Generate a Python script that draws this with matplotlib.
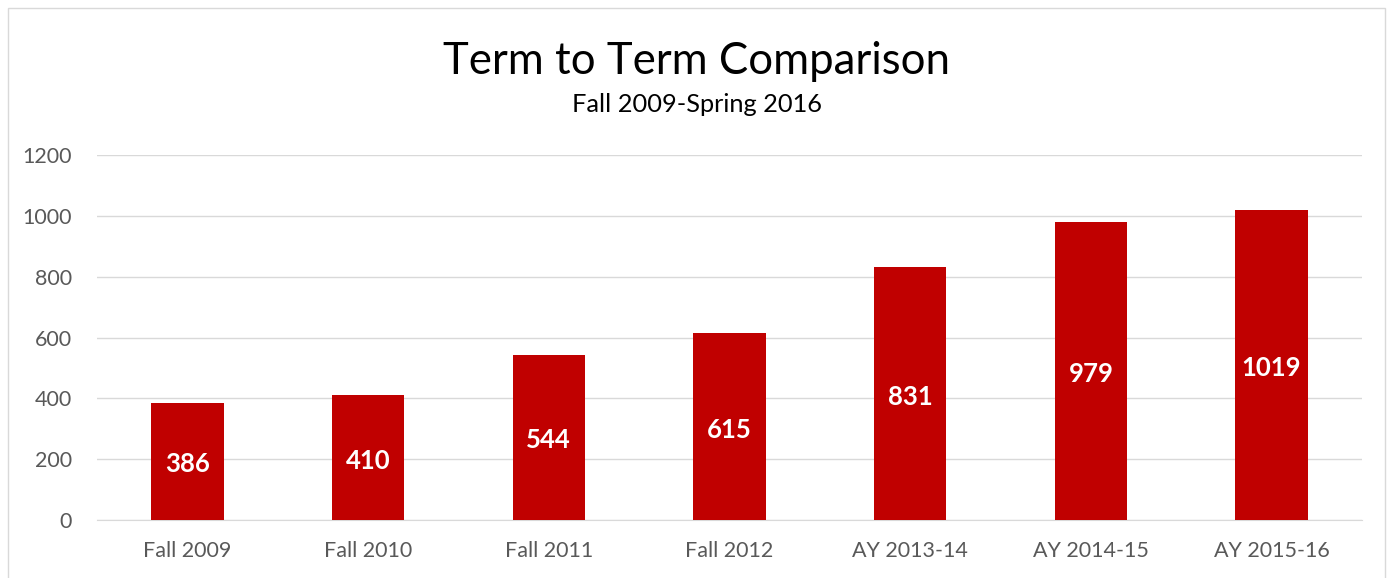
import matplotlib
matplotlib.use("Agg")
import matplotlib.pyplot as plt
from matplotlib.patches import Rectangle

terms = ["Fall 2009", "Fall 2010", "Fall 2011", "Fall 2012", "AY 2013-14", "AY 2014-15", "AY 2015-16"]
counts = [386, 410, 544, 615, 831, 979, 1019]
yticks = [0, 200, 400, 600, 800, 1000, 1200]

plt.rcParams['font.family'] = ['Lato', 'DejaVu Sans']

fig = plt.figure(figsize=(13.93, 5.78), dpi=100)
ax = fig.add_axes([97 / 1393, 1 - 520 / 578, 1265 / 1393, 365 / 578])

x = list(range(len(terms)))
bars = ax.bar(x, counts, width=0.4, color="#C00000", zorder=3)
for xi, v in zip(x, counts):
    ax.text(xi, v / 2 - 10, str(v), ha="center", va="center", color="white",
            fontsize=18.5, fontweight="bold", zorder=4)

ax.set_xlim(-0.5, len(terms) - 0.5)
ax.set_ylim(0, 1200)
ax.set_yticks(yticks)
ax.set_xticks(x)
ax.set_xticklabels(terms)
ax.tick_params(axis="both", length=0, labelsize=15.5, colors="#595959")
ax.tick_params(axis="y", pad=18)
ax.tick_params(axis="x", pad=15)
ax.grid(axis="y", color="#d9d9d9", linewidth=1, zorder=0)
for s in ["top", "right", "left"]:
    ax.spines[s].set_visible(False)
ax.spines["bottom"].set_color("#d9d9d9")

fig.text(0.5, 1 - 61 / 578, "Term to Term Comparison", ha="center", va="center",
         fontsize=31.5, color="black")
fig.text(0.5, 1 - 104 / 578, "Fall 2009-Spring 2016", ha="center", va="center",
         fontsize=18.3, color="black")

fig.patches.append(Rectangle((8 / 1393, -0.01), 1377 / 1393, 1 - 8 / 578 + 0.01,
                             transform=fig.transFigure, fill=False,
                             edgecolor="#d9d9d9", linewidth=1))

fig.savefig("out.png", dpi=100)
